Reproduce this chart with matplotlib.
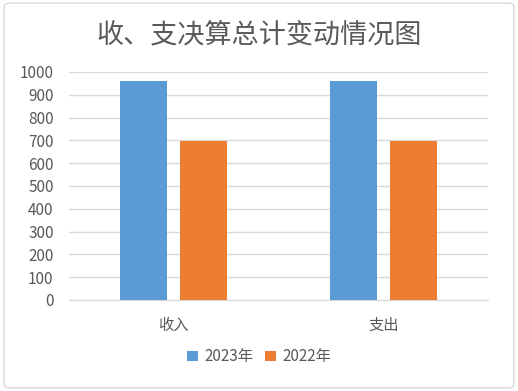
import matplotlib.pyplot as plt
import numpy as np
from matplotlib.patches import FancyBboxPatch

plt.rcParams['font.family'] = ['Noto Sans CJK SC', 'DejaVu Sans']

categories = ["收入", "支出"]
series_names = ["2023年", "2022年"]
values_2023 = [960, 960]
values_2022 = [698, 698]
colors = ["#5b9bd5", "#ed7d31"]

fig = plt.figure(figsize=(5.18, 3.91), dpi=100)
ax = fig.add_axes([0.133, 0.233, 0.81, 0.583])

x = np.arange(len(categories))
w = 0.224
ax.bar(x - 0.143, values_2023, w, color=colors[0], label=series_names[0], zorder=3)
ax.bar(x + 0.143, values_2022, w, color=colors[1], label=series_names[1], zorder=3)

ax.set_xlim(-0.5, 1.5)
ax.set_ylim(0, 1000)
ax.set_yticks(range(0, 1001, 100))
ax.set_xticks(x)
ax.set_xticklabels(categories)
ax.yaxis.grid(True, color="#d9d9d9", linewidth=1, zorder=0)
for s in ["top", "right", "left"]:
    ax.spines[s].set_visible(False)
ax.spines["bottom"].set_color("#d9d9d9")
ax.tick_params(axis="both", length=0, colors="#595959", labelsize=11)
ax.tick_params(axis="y", pad=11)
ax.tick_params(axis="x", pad=12)

fig.text(0.5, 0.91, "收、支决算总计变动情况图", ha="center", va="center",
         fontsize=19.5, color="#595959")

fig.legend(loc="center", bbox_to_anchor=(0.5, 0.087), ncol=2, frameon=False,
           fontsize=11, handlelength=0.7, handleheight=0.7, columnspacing=0.8,
           handletextpad=0.4, labelcolor="#595959")

border = FancyBboxPatch((0.008, 0.008), 0.984, 0.984, boxstyle="round,pad=0,rounding_size=0.01",
                        transform=fig.transFigure, fill=False, edgecolor="#d9d9d9", linewidth=1)
fig.patches.append(border)

fig.savefig("out.png", dpi=100)
